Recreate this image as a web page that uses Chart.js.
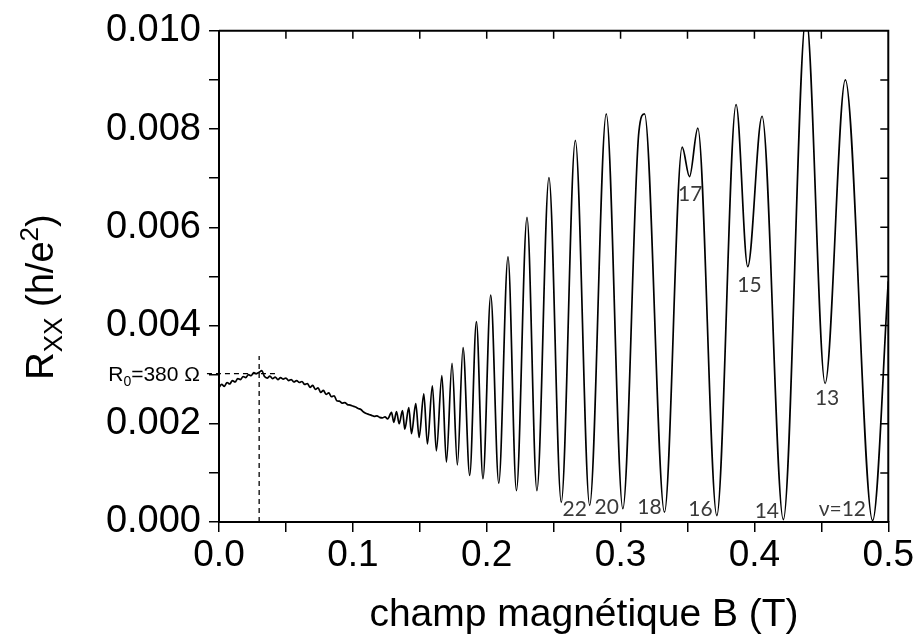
<!DOCTYPE html>
<html>
<head>
<meta charset="utf-8">
<script src="https://cdn.jsdelivr.net/npm/chart.js@4.4.1/dist/chart.umd.min.js"></script>
<style>
  html,body{margin:0;padding:0;background:#fff;}
  canvas{display:block;}
</style>
</head>
<body>
<canvas id="c" width="916" height="638"></canvas>
<script>
// champ magnétique B (T)
const fieldB = [
  0.000,0.002,0.004,0.006,0.008,0.010,0.012,0.014,0.016,0.018,
  0.020,0.022,0.024,0.026,0.028,0.030,0.032,0.034,0.036,0.038,
  0.040,0.042,0.044,0.046,0.048,0.050,0.052,0.054,0.056,0.058,
  0.060,0.062,0.064,0.066,0.068,0.070,0.072,0.074,0.076,0.078,
  0.080,0.082,0.084,0.086,0.088,0.090,0.092,0.094,0.096,0.098,
  0.100,0.102,0.104,0.106,0.108,0.110,0.112,0.114,0.116,0.118,
  0.120,0.122,0.124,0.126,
  0.1289,0.1306,0.1326,0.1346,0.1371,0.1388,0.1418,0.1438,0.1470,0.1495,
  0.1530,0.1557,0.1594,0.1624,0.1665,0.1699,0.1741,0.1781,0.1823,0.1873,
  0.1923,0.1972,0.2030,0.2090,0.2159,0.2222,0.2301,0.2375,0.2465,0.2557,
  0.2662,0.2769,0.2893,0.3017,0.3137,0.3179,0.3328,0.3460,0.3515,0.3577,
  0.3719,0.3863,0.3950,0.4057,0.4216,0.4386,0.4528,0.4679,0.4883,0.5000
];
// Rxx en 1e-3 h/e^2
const rxx = [
  2.74,2.80,2.76,2.84,2.81,2.88,2.85,2.92,2.90,2.96,
  2.94,3.00,2.98,3.04,3.02,3.05,3.08,2.96,2.93,2.97,
  2.92,2.95,2.90,2.94,2.91,2.93,2.88,2.90,2.85,2.88,
  2.84,2.86,2.80,2.82,2.74,2.78,2.70,2.73,2.64,2.68,
  2.60,2.63,2.55,2.57,2.47,2.46,2.42,2.43,2.39,2.38,
  2.36,2.34,2.31,2.29,2.24,2.21,2.19,2.17,2.15,2.16,
  2.13,2.12,2.14,2.10,
  2.23,2.03,2.25,2.00,2.27,1.89,2.33,1.80,2.41,1.72,
  2.61,1.59,2.77,1.45,2.98,1.22,3.23,1.16,3.55,0.95,
  4.08,0.88,4.62,0.79,5.40,0.64,6.20,0.64,7.01,0.40,
  7.77,0.34,8.31,0.27,7.95,8.31,0.20,7.63,7.03,8.02,
  0.13,8.50,5.20,8.26,0.05,10.3,2.82,9.00,0.03,4.90
];

// facteurs de remplissage
const nuText = ["22","20","18","16","14","\u03bd=12","17","15","13"];
const nuB    = [0.2657,0.2896,0.3216,0.3597,0.4093,0.4657,0.3520,0.3963,0.4543];
const nuR    = [0.27,0.30,0.30,0.25,0.21,0.25,6.67,4.81,2.52];

// R0 = 380 ohm a B = 0.03 T
const r0B = 0.03;
const r0R = 3.02;

const xTicks = [0.0,0.1,0.2,0.3,0.4,0.5];
const yTicks = [0.000,0.002,0.004,0.006,0.008,0.010];

const points = fieldB.map((b,i)=>({x:b,y:rxx[i]}));

const FONT = "'Liberation Sans', Arial, sans-serif";

const decor = {
  id:"decor",
  afterDatasetsDraw(chart){
    const {ctx, chartArea:a, scales:{x,y}} = chart;
    ctx.save();
    // cadre haut / droite
    ctx.strokeStyle="#000";
    ctx.lineWidth=2;
    ctx.beginPath();
    ctx.moveTo(a.left,a.top); ctx.lineTo(a.right,a.top); ctx.lineTo(a.right,a.bottom);
    ctx.stroke();
    // graduations interieures
    ctx.lineWidth=1.5;
    ctx.beginPath();
    for(let k=1;k<10;k++){
      const px=x.getPixelForValue(k*0.05);
      ctx.moveTo(px,a.top); ctx.lineTo(px,a.top+8);
    }
    for(let k=1;k<10;k++){
      const py=y.getPixelForValue(k);
      ctx.moveTo(a.right,py); ctx.lineTo(a.right-8,py);
    }
    ctx.stroke();

    // etiquettes nu
    ctx.fillStyle="#3a3a3a";
    ctx.font="21px Lato, 'Open Sans', sans-serif";
    ctx.textAlign="center";
    ctx.textBaseline="middle";
    nuText.forEach((t,i)=>{
      ctx.fillText(t, x.getPixelForValue(nuB[i]), y.getPixelForValue(nuR[i]));
    });

    // R0 label
    const ly=y.getPixelForValue(r0R);
    ctx.fillStyle="#000";
    ctx.textAlign="left";
    ctx.textBaseline="alphabetic";
    const f1="21px "+FONT, f2="14px "+FONT;
    ctx.font=f1; const wR=ctx.measureText("R").width, wRest=ctx.measureText("=380 \u03a9").width;
    ctx.font=f2; const w0=ctx.measureText("0").width;
    let sx=a.left-19-(wR+w0+wRest);
    const base=ly+7;
    ctx.font=f1; ctx.fillText("R",sx,base); sx+=wR;
    ctx.font=f2; ctx.fillText("0",sx,base+5); sx+=w0;
    ctx.font=f1; ctx.fillText("=380 \u03a9",sx,base);

    // titre axe y
    ctx.translate(40,297);
    ctx.rotate(-Math.PI/2);
    const big="38px "+FONT, small="26px "+FONT;
    const parts=[["R",big,0],["XX",small,9],[" (h/e",big,0],["2",small,-15],[")",big,0]];
    let tot=0;
    parts.forEach(p=>{ctx.font=p[1]; tot+=ctx.measureText(p[0]).width;});
    let cx=-tot/2;
    parts.forEach(p=>{
      ctx.font=p[1];
      ctx.fillText(p[0],cx,13+p[2]);
      cx+=ctx.measureText(p[0]).width;
    });
    ctx.restore();

    // titre axe x
    ctx.save();
    ctx.fillStyle="#000";
    ctx.font="39px "+FONT;
    ctx.textAlign="center";
    ctx.textBaseline="alphabetic";
    ctx.fillText("champ magn\u00e9tique B (T)", 584, 626);
    ctx.restore();
  }
};

new Chart(document.getElementById("c"),{
  type:"line",
  data:{
    datasets:[
      {
        data:points,
        borderColor:"#000",
        borderWidth:1.7,
        pointRadius:0,
        cubicInterpolationMode:"monotone",
        fill:false
      },
      {
        data:[{x:r0B,y:0},{x:r0B,y:3.38}],
        borderColor:"#000",
        borderWidth:1.3,
        borderDash:[5,4],
        pointRadius:0
      },
      {
        data:[{x:-0.009,y:r0R},{x:0.042,y:r0R}],
        borderColor:"#000",
        borderWidth:1.3,
        borderDash:[5,4],
        pointRadius:0,
        clip:false
      }
    ]
  },
  options:{
    responsive:false,
    animation:false,
    devicePixelRatio:1,
    layout:{padding:{left:0,right:27,top:30,bottom:0}},
    plugins:{legend:{display:false},tooltip:{enabled:false}},
    scales:{
      x:{
        type:"linear",
        min:0,max:0.5,
        afterFit:(s)=>{s.height=116;},
        ticks:{
          stepSize:0.05,
          autoSkip:false,
          maxRotation:0,
          padding:2,
          color:"#000",
          font:{family:FONT,size:37},
          callback:(v)=>{
            const hit=xTicks.find(t=>Math.abs(t-v)<1e-6);
            return hit===undefined?"":hit.toFixed(1);
          }
        },
        grid:{drawOnChartArea:false,drawTicks:true,tickLength:10,color:"#000",lineWidth:1.5},
        border:{display:true,color:"#000",width:2}
      },
      y:{
        type:"linear",
        min:0,max:10,
        afterFit:(s)=>{s.width=219;},
        ticks:{
          stepSize:1,
          autoSkip:false,
          padding:8,
          color:"#000",
          font:{family:FONT,size:38},
          callback:(v)=>{
            const hit=yTicks.find(t=>Math.abs(t*1000-v)<1e-6);
            return hit===undefined?"":hit.toFixed(3);
          }
        },
        grid:{drawOnChartArea:false,drawTicks:true,tickLength:10,color:"#000",lineWidth:1.5},
        border:{display:true,color:"#000",width:2}
      }
    }
  },
  plugins:[decor]
});
</script>
</body>
</html>
